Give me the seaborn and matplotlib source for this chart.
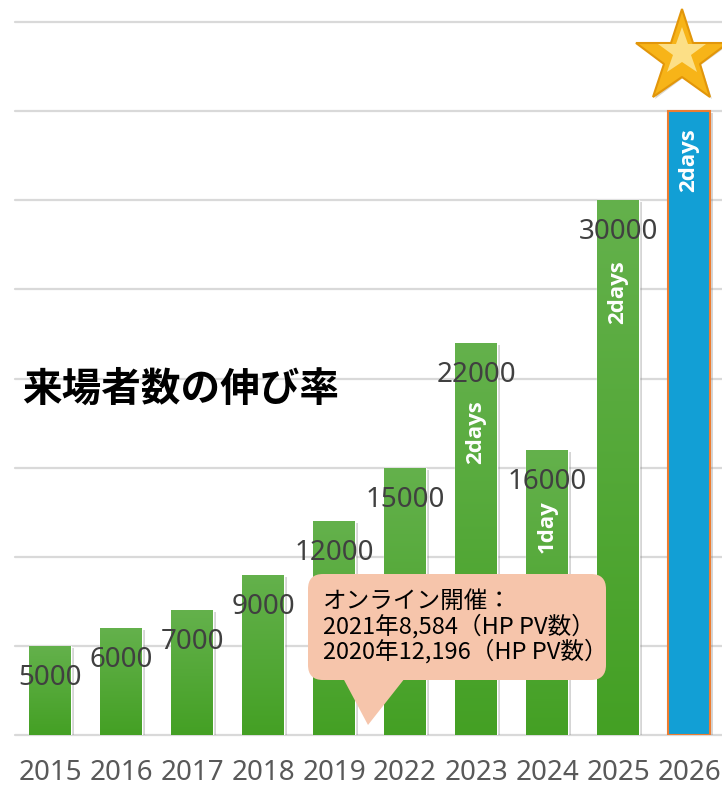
import matplotlib
matplotlib.use("Agg")
import matplotlib.pyplot as plt
import seaborn as sns
import numpy as np
import pandas as pd
from matplotlib.patches import FancyBboxPatch, Polygon
from matplotlib import patheffects as pe
from matplotlib.colors import LinearSegmentedColormap

# ---- data ----
years = ["2015", "2016", "2017", "2018", "2019", "2022", "2023", "2024", "2025", "2026"]
visitors = [5000, 6000, 7000, 9000, 12000, 15000, 22000, 16000, 30000, 35000]
value_labels = ["5000", "6000", "7000", "9000", "12000", "15000", "22000", "16000", "30000", ""]
bar_notes = ["", "", "", "", "", "", "2days", "1day", "2days", "2days"]
title = "来場者数の伸び率"
callout_lines = ["オンライン開催：", "2021年8,584（HP PV数）", "2020年12,196（HP PV数）"]

# ---- style ----
note_offset_px = [0, 0, 0, 0, 0, 0, 57, 50, 60, 17]
GREEN = "#52a935"
BLUE = "#129fd5"

sns.set_theme(style="white")
plt.rcParams['font.family'] = ['Noto Sans', 'Noto Sans CJK JP', 'DejaVu Sans']

W, H = 722, 787
fig = plt.figure(figsize=(W / 100, H / 100), dpi=100)
ax = fig.add_axes([14.5 / W, (H - 735) / H, 710 / W, (735 - 22) / H])

df = pd.DataFrame({"year": years, "visitors": visitors})
palette = [GREEN] * (len(years) - 1) + [BLUE]
sns.barplot(data=df, x="year", y="visitors", hue="year", palette=palette,
            legend=False, width=0.58, saturation=1, ax=ax, zorder=3)

ax.set_xlim(-0.5, 9.5)
ax.set_ylim(0, 40000)
ax.set_yticks(np.arange(0, 40001, 5000))
ax.set_yticklabels([])
ax.yaxis.grid(True, color="#d9d9d9", linewidth=1.6)
ax.set_axisbelow(True)
for gl in ax.get_ygridlines():
    gl.set_clip_on(False)
for s in ax.spines.values():
    s.set_visible(False)
ax.set_xlabel("")
ax.set_ylabel("")
ax.tick_params(axis="x", length=0, pad=17, labelsize=20, labelcolor="#595959")
ax.tick_params(axis="y", length=0)

# gradients + shadows
cmap = LinearSegmentedColormap.from_list("g", ["#44a024", "#64b14c"])
grad = np.linspace(0, 1, 256).reshape(-1, 1)
bars = sorted(ax.patches, key=lambda p: p.get_x())
for i, bar in enumerate(bars):
    bar.set_path_effects([pe.SimplePatchShadow(offset=(2.5, -1.5), shadow_rgbFace="#888888", alpha=0.35),
                          pe.Normal()])
    if i < len(bars) - 1:
        x0, w, h = bar.get_x(), bar.get_width(), bar.get_height()
        im = ax.imshow(grad, extent=[x0, x0 + w, 0, h], origin="lower", cmap=cmap,
                       aspect="auto", zorder=3.1, interpolation="bicubic")
        im.set_clip_path(bar)
    else:
        bar.set_edgecolor("#ed7d31")
        bar.set_linewidth(1.5)
ax.set_xlim(-0.5, 9.5)
ax.set_ylim(0, 40000)

# value labels
for i, (lab, v) in enumerate(zip(value_labels, visitors)):
    if lab:
        ax.annotate(lab, xy=(i, v), xytext=(0, -32 * 0.72), textcoords="offset points",
                    ha="center", va="center", fontsize=20, color="#404040", zorder=5)

# notes inside bars
for i, (note, v) in enumerate(zip(bar_notes, visitors)):
    if note:
        ax.annotate(note, xy=(i, v), xytext=(0, -note_offset_px[i] * 0.72), textcoords="offset points",
                    ha="center", va="top", rotation=90, fontsize=16, fontweight="bold",
                    family=["Open Sans", "DejaVu Sans"], color="white", zorder=5)

# star
ax.plot([8.9], [37980], marker="*", markersize=70, color="#f7b418", markeredgecolor="#e2960a",
        markeredgewidth=1.5, clip_on=False, zorder=6,
        path_effects=[pe.SimplePatchShadow(offset=(1, -1), alpha=0.2), pe.Normal()])
ax.plot([8.9], [38300], marker="*", markersize=36, color="#fde79a", markeredgewidth=0,
        alpha=0.85, clip_on=False, zorder=6.1)

# title
fig.text(22 / W, 1 - 389 / H, title, fontsize=28.5, fontweight="bold", color="black",
         family=["Noto Sans CJK JP", "DejaVu Sans"], ha="left", va="center")

# callout
tr = fig.dpi_scale_trans
peach = "#f6c5ab"
pad = 0.14
box = FancyBboxPatch((3.08 + pad, (H - 680) / 100 + pad), 2.98 - 2 * pad, 1.06 - 2 * pad,
                     boxstyle=f"round,pad={pad},rounding_size=0.15", transform=tr,
                     facecolor=peach, edgecolor="none", zorder=7, clip_on=False)
fig.patches.append(box)
tri = Polygon([(3.43, (H - 678) / 100), (4.05, (H - 678) / 100), (3.68, (H - 725) / 100)],
              closed=True, transform=tr, facecolor=peach, edgecolor="none", zorder=7)
fig.patches.append(tri)
for k, line in enumerate(callout_lines):
    fig.text(323 / W, 1 - (601 + 25 * k) / H, line, fontsize=17, color="black",
             family=["Noto Sans CJK JP", "DejaVu Sans"], ha="left", va="center", zorder=8)

fig.savefig("out.png", dpi=100, facecolor="white")
